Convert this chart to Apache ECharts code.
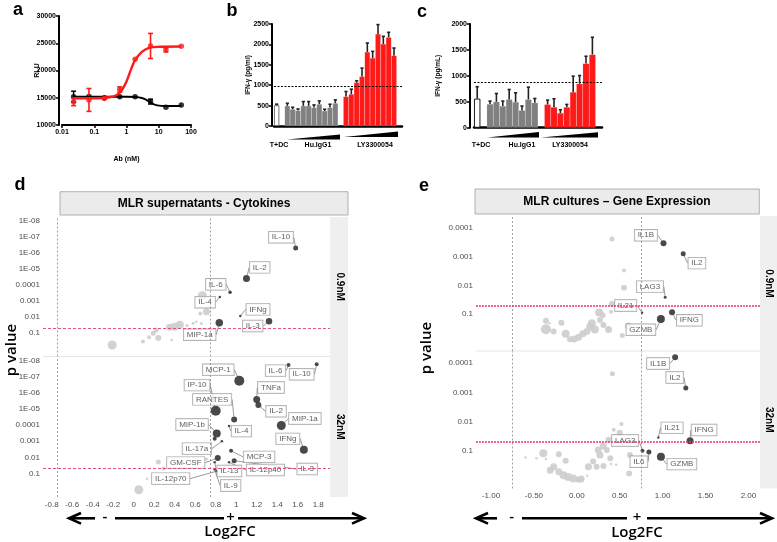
<!DOCTYPE html>
<html><head><meta charset="utf-8">
<script src="https://cdn.jsdelivr.net/npm/echarts@6/dist/echarts.min.js"></script>
<style>html,body{margin:0;padding:0;background:#fff}#c{width:777px;height:542px}</style>
</head><body><div id="c"></div>
<script>
// ================= DATA =================
// Panel a: reporter assay (RLU vs Ab nM)
const aDose      = [0.0229, 0.0686, 0.206, 0.617, 1.85, 5.56, 16.7, 50];
const aCtrlMean  = [15200, 15250, 15000, 15200, 15200, 14300, 13250, 13650];
const aCtrlSD    = [1000, 0, 0, 0, 0, 450, 0, 0];
const aLYMean    = [14250, 14600, 14850, 16500, 22050, 24500, 23800, 24450];
const aLYSD      = [700, 2100, 0, 500, 0, 2300, 400, 0];
const aFitLYDose = [0.0229, 0.1, 0.3, 0.5, 0.7, 1, 1.4, 1.85, 3, 5, 10, 50];
const aFitLY     = [14900, 14920, 15100, 15500, 16300, 18000, 20300, 21900, 23400, 24150, 24350, 24400];
const aFitCtrlDose = [0.0229, 1, 2, 3, 4, 5, 6.5, 9, 16.7, 50];
const aFitCtrl     = [15200, 15200, 15150, 14950, 14650, 14300, 13900, 13600, 13500, 13500];
const aYTicks = [10000, 15000, 20000, 25000, 30000];

// Panel b: IFN-gamma (pg/ml)
const bCtrl = [510],  bCtrlTop = [535];
const bIgG  = [492, 410, 377, 492, 492, 451, 533, 369, 451, 558];
const bIgGTop = [557, 459, 418, 599, 599, 517, 615, 410, 533, 640];
const bLY   = [722, 779, 1066, 1214, 1812, 1665, 2255, 2009, 2173, 1722];
const bLYTop = [845, 902, 1107, 1419, 2034, 1829, 2485, 2198, 2296, 1911];
const bThreshold = 980;

// Panel c: IFN-gamma (pg/mL)
const cCtrl = [560], cCtrlTop = [790];
const cIgG  = [455, 500, 417, 545, 494, 333, 545, 481];
const cIgGTop = [513, 660, 513, 737, 673, 417, 782, 564];
const cLY   = [449, 397, 282, 397, 686, 846, 1237, 1410];
const cLYTop = [532, 558, 346, 449, 994, 1006, 1378, 1744];
const cThreshold = 880;
const groupLabels = ['T+DC', 'Hu.IgG1', 'LY3300054'];

// Panel d: MLR supernatants - Cytokines (Log2FC, p value, point weight)
const dTopNames = ['IL-10','IL-2','IL-6','IL-4','IFNg','IL-3','MIP-1a'];
const dTopFC    = [1.58, 1.10, 0.94, 0.84, 1.04, 1.32, 0.835];
const dTopP     = [4.8e-7, 3.8e-5, 2.8e-4, 5.4e-4, 8.5e-3, 0.018, 0.022];
const dTopW     = [5, 7, 3.5, 2.5, 2.5, 6.5, 7.5];
const dTopGreyFC = [0.67, 0.71, 0.65, 0.61, 0.66, 0.45, 0.40, 0.35, 0.58, 0.22, 0.19, 0.24, 0.15, 0.09, 0.37, -0.21, 0.52];
const dTopGreyP  = [4.6e-4, 4.6e-3, 5.8e-3, 0.019, 0.025, 0.030, 0.039, 0.043, 0.024, 0.063, 0.10, 0.20, 0.18, 0.33, 0.26, 0.54, 0.033];
const dTopGreyW  = [9, 7, 4, 2.5, 3, 8, 8, 7, 3, 5, 5, 6, 4, 4, 2.5, 9, 3];

const dBotNames = ['IL-6','IL-10','MCP-1','TNFa','IL-2','IP-10','RANTES','IL-4','MIP-1a','MIP-1b','','IL-17a','IFNg','MCP-3','GM-CSF','IL-3','IL-12p40','IL-13','IL-9','IL-12p70'];
const dBotFC    = [1.51, 1.785, 1.03, 1.20, 1.216, 0.80, 0.98, 0.93, 1.44, 0.81, 0.79, 0.86, 1.66, 0.95, 0.82, 0.98, 0.93, 0.79, 0.79, 0.81];
const dBotP     = [1.9e-8, 1.7e-8, 1.8e-7, 2.6e-6, 5.6e-6, 1.3e-5, 4.4e-5, 1.15e-4, 1.05e-4, 3.3e-4, 6.9e-4, 1.0e-3, 3.4e-3, 3.9e-3, 0.011, 0.016, 0.020, 0.020, 0.056, 0.071];
const dBotW     = [4, 4, 10, 7, 6, 10, 6, 2.5, 9, 8, 4, 2.5, 8, 4, 6, 5, 2.5, 2.5, 2.5, 2.5];
const dBotGreyFC = [0.24, 0.29, 0.13, 0.05, 0.71];
const dBotGreyP  = [0.019, 0.049, 0.21, 1.0, 0.0126];
const dBotGreyW  = [5, 4, 2.5, 9, 3];
const dTickP    = [1e-8, 1e-7, 1e-6, 1e-5, 1e-4, 1e-3, 1e-2, 0.1];
const dTickText = ['1E-08','1E-07','1E-06','1E-05','0.0001','0.001','0.01','0.1'];
const dXTicks   = [-0.8,-0.6,-0.4,-0.2,0,0.2,0.4,0.6,0.8,1,1.2,1.4,1.6,1.8];

// Panel e: MLR cultures - Gene Expression
const eTopNames = ['IL1B','IL2','LAG3','IL21','IFNG','GZMB'];
const eTopFC    = [1.01, 1.24, 1.03, 0.76, 1.11, 0.98];
const eTopP     = [3.4e-4, 7.9e-4, 0.026, 0.091, 0.087, 0.15];
const eTopW     = [6, 5, 3, 2.5, 6, 8];
const eTopGreyFC = [0.41,0.55,0.55,0.41,0.40,0.26,0.175,0.155,0.117,0.21,0.37,0.07,0.02,-0.03,-0.08,-0.13,-0.18,-0.36,-0.36,-0.27,0.60,0.53,0.31,0.27,-0.32,0.30];
const eTopGreyP  = [2.4e-4,3.0e-3,0.012,0.045,0.083,0.089,0.21,0.28,0.41,0.35,0.35,0.49,0.65,0.74,0.76,0.49,0.20,0.17,0.34,0.41,0.26,0.56,0.24,0.16,0.21,0.11];
const eTopGreyW  = [5,4,6,6,4,8,8,8,7,8,7,7,7,7,6,8,6,6,10,6,7,5,6,6,2.5,6];

const eBotNames = ['IL1B','IL2','IL21','IFNG','LAG3','IL6','GZMB'];
const eBotFC    = [1.146, 1.27, 0.95, 1.32, 0.765, 0.84, 0.98];
const eBotP     = [6.2e-5, 7.1e-4, 0.035, 0.045, 0.10, 0.11, 0.16];
const eBotW     = [6, 5, 2.5, 7, 4, 5, 8];
const eBotGreyFC = [0.415,0.52,0.43,0.50,0.37,0.31,0.25,0.35,0.27,0.39,0.19,0.135,0.23,0.31,0.62,0.61,0.40,0.46,0.12,-0.21,-0.13,-0.39,-0.27,-0.31,-0.21,-0.155,-0.10,-0.04,0.02,-0.6,-0.47,-0.36,0.05];
const eBotGreyP  = [2.3e-4,0.012,0.019,0.024,0.042,0.068,0.093,0.093,0.14,0.18,0.23,0.35,0.35,0.33,0.14,0.60,0.28,0.30,0.71,0.13,0.22,0.12,0.35,0.46,0.52,0.69,0.79,0.89,0.98,0.17,0.18,0.19,0.93];
const eBotGreyW  = [5,4,4,6,6,7,7,6,7,6,6,7,6,6,6,6,2.5,2.5,2.5,6,6,8,7,7,7,8,8,8,6,2.5,2.5,2.5,7];
const eTickP    = [1e-4, 1e-3, 1e-2, 0.1];
const eTickText = ['0.0001','0.001','0.01','0.1'];
const eXTicks   = [-1, -0.5, 0, 0.5, 1, 1.5, 2];

const pThreshold = 0.05;
const fcThreshold = 0.75;

// ================= STYLE (label offsets in px) =================
const dTopOff = [[-14.7,-10.7],[13.3,-11],[-14.3,-8],[-14.7,5.3],[17.7,-6.7],[-16.3,4.7],[-19.6,12]];
const dBotOff = [[-13,5.6],[-15,10],[-21,-11],[14.3,-12],[17.7,6.3],[-18.7,-25.7],[-22,-20],[12.4,5],[23.6,-7],[-24.7,-9],[0,0],[-25,7.3],[-16,-11],[28,6],[-32,4.5],[73,8.3],[36.4,7.7],[14.7,8.7],[16,16],[-46,7.4]];
const eTopOff = [[-17.6,-8],[13.7,9.4],[-15.3,-10.6],[-16.4,-7.4],[17.3,8],[-20,10.7]];
const eBotOff = [[-17,6.3],[-11,-10.6],[13.7,-9.7],[14,-10.7],[-17.3,-10.3],[-10,9.7],[21,7.3]];

const FONT = '"Liberation Sans", Arial, Helvetica, sans-serif';
const B7 = {fontFamily: FONT, fontWeight: 'bold', fontSize: 7, color: '#000'};
const RED = '#ff1a1a';
const nlog = p => -Math.log10(p);
const plain = v => String(v);

// ================= BUILD =================
function errRender(color, lw, cap, both) {
  return function (params, api) {
    const x = api.value(0), lo = api.value(1), hi = api.value(2);
    const a = api.coord([x, lo]), b = api.coord([x, hi]);
    const st = {stroke: color, lineWidth: lw};
    const ch = [
      {type: 'line', shape: {x1: a[0], y1: a[1], x2: b[0], y2: b[1]}, style: st},
      {type: 'line', shape: {x1: b[0] - cap, y1: b[1], x2: b[0] + cap, y2: b[1]}, style: st}
    ];
    if (both) ch.push({type: 'line', shape: {x1: a[0] - cap, y1: a[1], x2: a[0] + cap, y2: a[1]}, style: st});
    return {type: 'group', children: ch};
  };
}

// bar panels
function barPanel(idx, ctrl, ctrlTop, igg, iggTop, ly, lyTop, thr, borderCol) {
  const cats = ['T+DC', ''];
  igg.forEach((v, i) => cats.push('Hu.IgG1 ' + (i + 1)));
  cats.push(' ');
  ly.forEach((v, i) => cats.push('LY3300054 ' + (i + 1)));
  cats.push('  ');
  const n = cats.length;
  const w = new Array(n).fill(null), g = new Array(n).fill(null), r = new Array(n).fill(null);
  const err = [];
  w[0] = ctrl[0]; err.push([0, ctrl[0], ctrlTop[0]]);
  igg.forEach((v, i) => { g[2 + i] = v; err.push([2 + i, v, iggTop[i]]); });
  const off = 3 + igg.length;
  ly.forEach((v, i) => { r[off + i] = v; err.push([off + i, v, lyTop[i]]); });
  const common = {type: 'bar', xAxisIndex: idx, yAxisIndex: idx, stack: 'st' + idx, barCategoryGap: '0%', silent: true};
  return {cats, series: [
    Object.assign({}, common, {data: w, itemStyle: {color: '#fff', borderColor: borderCol, borderWidth: 0.9}}),
    Object.assign({}, common, {data: g, itemStyle: {color: '#808080', borderColor: 'rgba(255,255,255,0.3)', borderWidth: 0.3}}),
    Object.assign({}, common, {data: r, itemStyle: {color: RED, borderColor: 'rgba(255,255,255,0.3)', borderWidth: 0.3},
      markLine: {silent: true, symbol: 'none', label: {show: false},
        lineStyle: {color: '#000', type: [2, 1.5], width: 1}, data: [{yAxis: thr}]}}),
    {type: 'custom', xAxisIndex: idx, yAxisIndex: idx, silent: true, z: 5,
      renderItem: errRender('#222', 1.6, 1.6, false), encode: {x: 0, y: [1, 2]}, data: err}
  ]};
}
const bP = barPanel(1, bCtrl, bCtrlTop, bIgG, bIgGTop, bLY, bLYTop, bThreshold, '#666');
const cP = barPanel(2, cCtrl, cCtrlTop, cIgG, cIgGTop, cLY, cLYTop, cThreshold, '#000');

// volcano facets
function facet(idx, names, fc, p, w, off, gFC, gP, gW, redStyle) {
  const grey = gFC.map((x, i) => [x, nlog(gP[i]), gW[i]]);
  const dark = fc.map((x, i) => ({name: names[i], value: [x, nlog(p[i]), w[i]],
    label: names[i] ? undefined : {show: false}}));
  return [
    {type: 'scatter', xAxisIndex: idx, yAxisIndex: idx, silent: true, z: 2,
      symbolSize: v => v[2], itemStyle: {color: '#cdcdcd', opacity: 0.9}, data: grey,
      markLine: {silent: true, symbol: 'none', label: {show: false}, animation: false,
        data: [
          {xAxis: -fcThreshold, lineStyle: {color: '#8a8a8a', type: [2, 2], width: 0.8}},
          {xAxis: fcThreshold, lineStyle: {color: '#8a8a8a', type: [2, 2], width: 0.8}},
          {yAxis: nlog(pThreshold), lineStyle: redStyle}
        ]}},
    {type: 'scatter', xAxisIndex: idx, yAxisIndex: idx, silent: true, z: 4,
      symbolSize: v => v[2], itemStyle: {color: '#1c1c1c'}, data: dark,
      label: {show: true, position: 'inside', formatter: '{b}', fontFamily: FONT, fontSize: 8,
        color: '#333', backgroundColor: '#fff', borderColor: '#8c8c8c', borderWidth: 0.7,
        padding: [2, 3, 1, 3]},
      labelLayout: prm => ({dx: off[prm.dataIndex][0], dy: off[prm.dataIndex][1], hideOverlap: false}),
      labelLine: {show: true, lineStyle: {color: '#555', width: 0.6}}}
  ];
}
const dRed = {color: '#e0407a', type: [3, 2], width: 0.9};
const eRed = {color: '#e8337a', type: [2, 1], width: 1.6};

function yTickAxis(idx, tickP, tickText, min, max) {
  const vals = tickP.map(nlog);
  return {type: 'value', gridIndex: idx, min, max, splitLine: {show: false},
    axisLine: {show: false}, axisTick: {show: false},
    axisLabel: {customValues: vals, fontFamily: FONT, fontSize: 8, color: '#4d4d4d', margin: 3,
      formatter: v => { const k = vals.findIndex(t => Math.abs(t - v) < 1e-6); return k >= 0 ? tickText[k] : ''; }}};
}
function xFcAxis(idx, min, max, ticks, showLabels, fmt, margin) {
  return {type: 'value', gridIndex: idx, min, max, splitLine: {show: false},
    axisLine: {show: false}, axisTick: {show: false},
    axisLabel: {show: showLabels, customValues: ticks, fontFamily: FONT, fontSize: 8, color: '#4d4d4d', margin, formatter: fmt}};
}
const dFmt = v => String(+v.toFixed(1));
const eFmt = v => v.toFixed(2);

const aErr = (mean, sd) => aDose.map((x, i) => [x, mean[i] - sd[i], mean[i] + sd[i]]).filter((d, i) => sd[i] > 0);

const series = [
  // panel a
  {type: 'line', xAxisIndex: 0, yAxisIndex: 0, smooth: 0.35, showSymbol: false, silent: true,
    lineStyle: {color: '#000', width: 2}, data: aFitCtrlDose.map((x, i) => [x, aFitCtrl[i]])},
  {type: 'line', xAxisIndex: 0, yAxisIndex: 0, smooth: 0.35, showSymbol: false, silent: true,
    lineStyle: {color: RED, width: 2.4}, data: aFitLYDose.map((x, i) => [x, aFitLY[i]])},
  {type: 'custom', xAxisIndex: 0, yAxisIndex: 0, silent: true, renderItem: errRender('#000', 1.5, 2.5, true),
    encode: {x: 0, y: [1, 2]}, data: aErr(aCtrlMean, aCtrlSD)},
  {type: 'scatter', xAxisIndex: 0, yAxisIndex: 0, silent: true, symbolSize: 5.5,
    itemStyle: {color: '#000'}, data: aDose.map((x, i) => [x, aCtrlMean[i]])},
  {type: 'custom', xAxisIndex: 0, yAxisIndex: 0, silent: true, z: 3, renderItem: errRender(RED, 1.6, 2.5, true),
    encode: {x: 0, y: [1, 2]}, data: aErr(aLYMean, aLYSD)},
  {type: 'scatter', xAxisIndex: 0, yAxisIndex: 0, silent: true, symbolSize: 5.5, z: 3,
    itemStyle: {color: RED}, data: aDose.map((x, i) => [x, aLYMean[i]])},
  ...bP.series, ...cP.series,
  ...facet(3, dTopNames, dTopFC, dTopP, dTopW, dTopOff, dTopGreyFC, dTopGreyP, dTopGreyW, dRed),
  ...facet(4, dBotNames, dBotFC, dBotP, dBotW, dBotOff, dBotGreyFC, dBotGreyP, dBotGreyW, dRed),
  ...facet(5, eTopNames, eTopFC, eTopP, eTopW, eTopOff, eTopGreyFC, eTopGreyP, eTopGreyW, eRed),
  ...facet(6, eBotNames, eBotFC, eBotP, eBotW, eBotOff, eBotGreyFC, eBotGreyP, eBotGreyW, eRed)
];

const blackAxisLine = w => ({show: true, lineStyle: {color: '#000', width: w}});
const xAxis = [
  {type: 'log', gridIndex: 0, logBase: 10, min: 0.01, max: 100, splitLine: {show: false},
    axisLine: blackAxisLine(2), axisTick: {show: true, length: 3, lineStyle: {color: '#000', width: 1.5}},
    minorTick: {show: false}, axisLabel: Object.assign({margin: 4, formatter: plain}, B7),
    name: 'Ab (nM)', nameLocation: 'middle', nameGap: 31, nameMoveOverlap: false, nameTextStyle: B7},
  {type: 'category', gridIndex: 1, data: bP.cats, axisLine: blackAxisLine(2.5), axisTick: {show: false}, axisLabel: {show: false}},
  {type: 'category', gridIndex: 2, data: cP.cats, axisLine: blackAxisLine(2.5), axisTick: {show: false}, axisLabel: {show: false}},
  xFcAxis(3, -0.885, 1.915, dXTicks, false, dFmt, 4),
  xFcAxis(4, -0.885, 1.915, dXTicks, true, dFmt, 4),
  xFcAxis(5, -1.175, 2.135, eXTicks, false, eFmt, 3),
  xFcAxis(6, -1.175, 2.135, eXTicks, true, eFmt, 3)
];
const yAxis = [
  {type: 'value', gridIndex: 0, min: aYTicks[0], max: aYTicks[aYTicks.length - 1], interval: 5000, offset: 3,
    splitLine: {show: false}, axisLine: blackAxisLine(2),
    axisTick: {show: true, length: 3, lineStyle: {color: '#000', width: 1.5}},
    axisLabel: Object.assign({margin: 3, formatter: plain}, B7),
    name: 'RLU', nameLocation: 'middle', nameGap: 18, nameRotate: 90, nameMoveOverlap: false, nameTextStyle: B7},
  {type: 'value', gridIndex: 1, min: 0, max: 2500, interval: 500, offset: 2,
    splitLine: {show: false}, axisLine: blackAxisLine(2),
    axisTick: {show: true, length: 3, lineStyle: {color: '#000', width: 1.5}},
    axisLabel: Object.assign({margin: 3, formatter: plain}, B7),
    name: 'IFN-γ (pg/ml)', nameLocation: 'middle', nameGap: 20, nameRotate: 90, nameMoveOverlap: false,
    nameTextStyle: Object.assign({}, B7, {fontSize: 6.5})},
  {type: 'value', gridIndex: 2, min: 0, max: 2000, interval: 500, offset: 4,
    splitLine: {show: false}, axisLine: blackAxisLine(2),
    axisTick: {show: true, length: 3, lineStyle: {color: '#000', width: 1.5}},
    axisLabel: Object.assign({margin: 3, formatter: plain}, B7),
    name: 'IFN-γ (pg/mL)', nameLocation: 'middle', nameGap: 28, nameRotate: 90, nameMoveOverlap: false,
    nameTextStyle: Object.assign({}, B7, {fontSize: 6.5})},
  yTickAxis(3, dTickP, dTickText, -0.45, 8.25),
  yTickAxis(4, dTickP, dTickText, -0.45, 8.25),
  yTickAxis(5, eTickP, eTickText, -0.29, 4.42),
  yTickAxis(6, eTickP, eTickText, -0.29, 4.42)
];

const G = (o) => Object.assign({containLabel: false, outerBoundsMode: 'none'}, o);
const grid = [
  G({left: 62, top: 16, width: 129, height: 109}),
  G({left: 274, top: 24, width: 128, height: 102}),
  G({left: 474, top: 24, width: 128, height: 103.7}),
  G({left: 43, top: 217, width: 287, height: 139.5}),
  G({left: 43, top: 356.5, width: 287, height: 140.5}),
  G({left: 476, top: 216, width: 284, height: 135}),
  G({left: 476, top: 351, width: 284, height: 137.5})
];

// decorations
function txt(x, y, text, font, opts) {
  return Object.assign({type: 'text', x, y, z: 50,
    style: {text, font, fill: '#000', align: 'center', verticalAlign: 'middle', textAlign: 'center', textVerticalAlign: 'middle'}}, opts || {});
}
function line(pts, w, col) {
  return {type: 'polyline', z: 50, shape: {points: pts}, style: {stroke: col || '#000', lineWidth: w, fill: null}};
}
function poly(pts) { return {type: 'polygon', z: 50, shape: {points: pts}, style: {fill: '#000'}}; }
const LET = 'bold 18px ' + FONT;
const B7F = 'bold 7px ' + FONT;
const BIG = '600 15px "Open Sans", sans-serif';
const graphic = [
  txt(18, 10, 'a', LET), txt(232, 11, 'b', LET), txt(422, 12, 'c', LET),
  txt(20, 185, 'd', LET), txt(424, 186, 'e', LET),
  // b group labels & wedges
  txt(279, 145, groupLabels[0], B7F), txt(318, 145, groupLabels[1], B7F), txt(375, 145, groupLabels[2], B7F),
  poly([[287, 139.5], [340, 139.5], [340, 134.5]]), poly([[344, 137], [398, 137], [398, 131.5]]),
  // c group labels & wedges
  txt(481, 145, groupLabels[0], B7F), txt(522, 145, groupLabels[1], B7F), txt(570, 145, groupLabels[2], B7F),
  poly([[487, 137.5], [539, 137.5], [539, 132]]), poly([[541, 137.5], [598, 137.5], [598, 132.3]]),
  // d title box
  {type: 'rect', z: 40, shape: {x: 60, y: 191.7, width: 288, height: 23.3}, style: {fill: '#ebebeb', stroke: '#a0a0a0', lineWidth: 0.8}},
  txt(204, 203.3, 'MLR supernatants - Cytokines', 'bold 12px ' + FONT),
  // e title box
  {type: 'rect', z: 40, shape: {x: 475, y: 189, width: 284.3, height: 25}, style: {fill: '#ebebeb', stroke: '#a0a0a0', lineWidth: 0.8}},
  txt(617, 201.5, 'MLR cultures \u2013 Gene Expression', 'bold 12px ' + FONT),
  // strips
  {type: 'rect', z: 1, shape: {x: 330, y: 217, width: 18, height: 280}, style: {fill: '#efefef'}},
  {type: 'rect', z: 1, shape: {x: 760, y: 216, width: 17, height: 272.5}, style: {fill: '#efefef'}},
  txt(340, 286.7, '0.9nM', 'bold 10px ' + FONT, {rotation: -Math.PI / 2}),
  txt(340, 426.7, '32nM', 'bold 10px ' + FONT, {rotation: -Math.PI / 2}),
  txt(769, 283.5, '0.9nM', 'bold 10px ' + FONT, {rotation: -Math.PI / 2}),
  txt(769, 419.7, '32nM', 'bold 10px ' + FONT, {rotation: -Math.PI / 2}),
  // facet separators
  line([[43, 356.5], [330, 356.5]], 0.8, '#dedede'),
  line([[476, 351], [760, 351]], 0.8, '#dedede'),
  // y titles
  txt(12, 350, 'p value', BIG, {rotation: Math.PI / 2}),
  txt(427, 348, 'p value', BIG, {rotation: Math.PI / 2}),
  // d arrow
  line([[69, 518.3], [95, 518.3]], 2.6), line([[81, 513], [69, 518.3], [81, 523.6]], 2.6),
  line([[115, 518.3], [224, 518.3]], 2.6), line([[238, 518.3], [364, 518.3]], 2.6),
  line([[352, 513], [364, 518.3], [352, 523.6]], 2.6),
  txt(105, 517, '-', BIG), txt(230.5, 518, '+', BIG),
  txt(230, 532, 'Log2FC', BIG),
  // e arrow
  line([[476, 518.3], [497, 518.3]], 2.6), line([[488, 513], [476, 518.3], [488, 523.6]], 2.6),
  line([[522, 518.3], [627, 518.3]], 2.6), line([[647, 518.3], [772, 518.3]], 2.6),
  line([[760, 513], [772, 518.3], [760, 523.6]], 2.6),
  txt(511.7, 517, '-', BIG), txt(637, 518, '+', BIG),
  txt(637, 533, 'Log2FC', BIG)
];

const chart = echarts.init(document.getElementById('c'), null, {renderer: 'canvas'});
chart.setOption({animation: false, backgroundColor: '#fff', grid, xAxis, yAxis, series, graphic});
</script></body></html>
